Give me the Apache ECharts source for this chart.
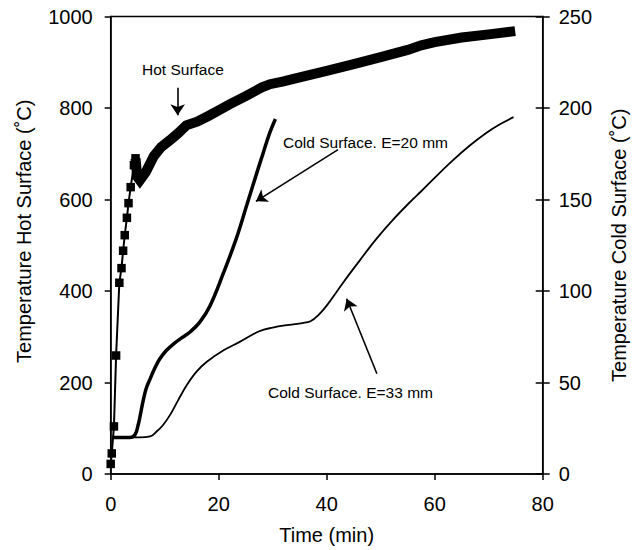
<!DOCTYPE html>
<html>
<head>
<meta charset="utf-8">
<script src="https://cdn.jsdelivr.net/npm/echarts@6/dist/echarts.min.js"></script>
<style>html,body{margin:0;padding:0;background:#fff}#c{width:642px;height:550px}</style>
</head>
<body>
<div id="c"></div>
<script>
// Time (min) axis ticks
var xTicks = [0, 20, 40, 60, 80];
// Hot surface: sparse square markers at start
var hotEarly = [[0, 22], [0.2, 45], [0.6, 104], [1.0, 259], [1.6, 418], [2.0, 450], [2.3, 488], [2.6, 522], [3.0, 560], [3.3, 592], [3.7, 627], [4.3, 675], [4.6, 690]];
// Hot surface: dense part (drawn as a thick band)
var hotBand = [[4.6, 690], [4.9, 650], [5.4, 642], [6.5, 660], [8.0, 695], [9.3, 714], [11, 730], [12.5, 745], [14, 762], [16, 770], [18, 782], [20, 795], [22, 808], [25, 826], [28, 845], [29.5, 852], [32, 858], [35, 867], [40, 881], [45, 896], [50, 911], [55, 927], [57.5, 937], [60, 944], [65, 954], [70, 961], [74.9, 968]];
// Cold surface E=20 mm (right axis)
var cold20 = [[0.3, 20], [3.5, 20], [4.5, 21.5], [5.1, 27], [5.4, 31], [6.0, 40], [6.6, 47], [7.3, 52], [8.2, 58], [9.1, 63], [10.3, 67.5], [11.6, 71], [13.2, 74.5], [14.7, 77.6], [16.5, 83], [18.4, 92], [20.9, 110], [23.3, 129], [25.2, 147], [27.0, 164], [28.3, 176], [29.4, 186], [30.5, 194]];
// Cold surface E=33 mm (right axis)
var cold33 = [[0.3, 20], [5.4, 20], [7.3, 20.5], [8.5, 23.2], [9.7, 26.8], [11.0, 32.3], [12.5, 40.4], [14.1, 48.6], [15.9, 55.9], [17.8, 61.3], [20.9, 67.6], [23.9, 72.2], [27.5, 78], [30, 80], [33, 81.5], [35.5, 82.5], [37, 83.5], [38.5, 87], [40, 92], [43.1, 104.8], [46.2, 117], [49.2, 128.5], [52.3, 139], [55.4, 148.5], [57.5, 154.5], [59.7, 161], [63.4, 171.5], [66.5, 179.5], [69.6, 186.5], [72, 191], [74.6, 195]];
// Annotation arrows (in time / hot-axis units)
var arrowHot = [[12.4, 844], [12.4, 784]];
var arrow20 = [[42.1, 709], [26.9, 596]];
var arrow33 = [[49.3, 219], [43.7, 383]];

var F = '"Liberation Sans", Arial, Helvetica, sans-serif';
var chart = echarts.init(document.getElementById('c'), null, {renderer: 'svg'});
function arrowLine(a) {
  return [{coord: a[0]}, {coord: a[1]}];
}
var axisLabelStyle = {color: '#000', fontSize: 20, fontFamily: F, formatter: function (v) { return String(v); }};
chart.setOption({
  animation: false,
  backgroundColor: '#fff',
  grid: {left: 110.7, right: 99.3, top: 16.5, bottom: 74, show: true, borderColor: '#000', borderWidth: 1.5, backgroundColor: 'transparent'},
  xAxis: {
    type: 'value', min: 0, max: 80, interval: 20,
    name: 'Time (min)', nameLocation: 'middle', nameGap: 51,
    nameTextStyle: {color: '#000', fontSize: 20, fontFamily: F},
    axisLine: {show: true, lineStyle: {color: '#000', width: 1.5}},
    axisTick: {show: true, inside: false, length: 6, lineStyle: {color: '#000', width: 1.5}},
    axisLabel: Object.assign({margin: 20}, axisLabelStyle),
    splitLine: {show: false}
  },
  yAxis: [
    {
      type: 'value', min: 0, max: 1000, interval: 200, position: 'left',
      name: 'Temperature Hot Surface (˚C)', nameLocation: 'middle', nameGap: 77, nameRotate: 90,
      nameTextStyle: {color: '#000', fontSize: 20, fontFamily: F, padding: [0, 0, 0, 28]},
      axisLine: {show: true, lineStyle: {color: '#000', width: 1.5}},
      axisTick: {show: true, inside: false, length: 6, lineStyle: {color: '#000', width: 1.5}},
      axisLabel: Object.assign({margin: 18}, axisLabelStyle),
      splitLine: {show: false}
    },
    {
      type: 'value', min: 0, max: 250, interval: 50, position: 'right',
      name: 'Temperature Cold Surface (˚C)', nameLocation: 'middle', nameGap: 66, nameRotate: 90,
      nameTextStyle: {color: '#000', fontSize: 20, fontFamily: F},
      axisLine: {show: true, lineStyle: {color: '#000', width: 1.5}},
      axisTick: {show: true, inside: false, length: 7, lineStyle: {color: '#000', width: 1.5}},
      axisLabel: Object.assign({margin: 16}, axisLabelStyle),
      splitLine: {show: false}
    },
    {
      type: 'value', min: 0, max: 250, interval: 50, position: 'right',
      axisLine: {show: false},
      axisTick: {show: true, inside: true, length: 7, lineStyle: {color: '#000', width: 1.5}},
      axisLabel: {show: false},
      splitLine: {show: false}
    }
  ],
  series: [
    {
      name: 'Hot Surface', type: 'line', yAxisIndex: 0, data: hotBand,
      symbol: 'none', lineStyle: {color: '#000', width: 10, join: 'miter'}, z: 3,
      markLine: {
        silent: true, symbol: ['none', 'arrow'], symbolSize: 11, animation: false,
        lineStyle: {color: '#000', width: 1.6, type: 'solid'},
        itemStyle: {color: '#000'},
        label: {show: false},
        data: [arrowLine(arrowHot), arrowLine(arrow20), arrowLine(arrow33)]
      }
    },
    {
      name: 'Hot Surface markers', type: 'line', yAxisIndex: 0, data: hotEarly,
      symbol: 'rect', symbolSize: 8.5, showAllSymbol: true,
      itemStyle: {color: '#000'}, lineStyle: {color: '#000', width: 2}, z: 4
    },
    {
      name: 'Cold Surface. E=20 mm', type: 'line', yAxisIndex: 1, data: cold20,
      symbol: 'none', smooth: 0.4, lineStyle: {color: '#000', width: 3.5}, z: 3
    },
    {
      name: 'Cold Surface. E=33 mm', type: 'line', yAxisIndex: 1, data: cold33,
      symbol: 'none', smooth: 0.4, lineStyle: {color: '#000', width: 1.8}, z: 3
    }
  ],
  graphic: [
    {type: 'text', left: 142, top: 61, style: {text: 'Hot Surface', fill: '#000', font: '15.5px ' + F}},
    {type: 'text', left: 283, top: 134, style: {text: 'Cold Surface. E=20 mm', fill: '#000', font: '15.5px ' + F}},
    {type: 'text', left: 268, top: 384, style: {text: 'Cold Surface. E=33 mm', fill: '#000', font: '15.5px ' + F}}
  ]
});
</script>
</body>
</html>
